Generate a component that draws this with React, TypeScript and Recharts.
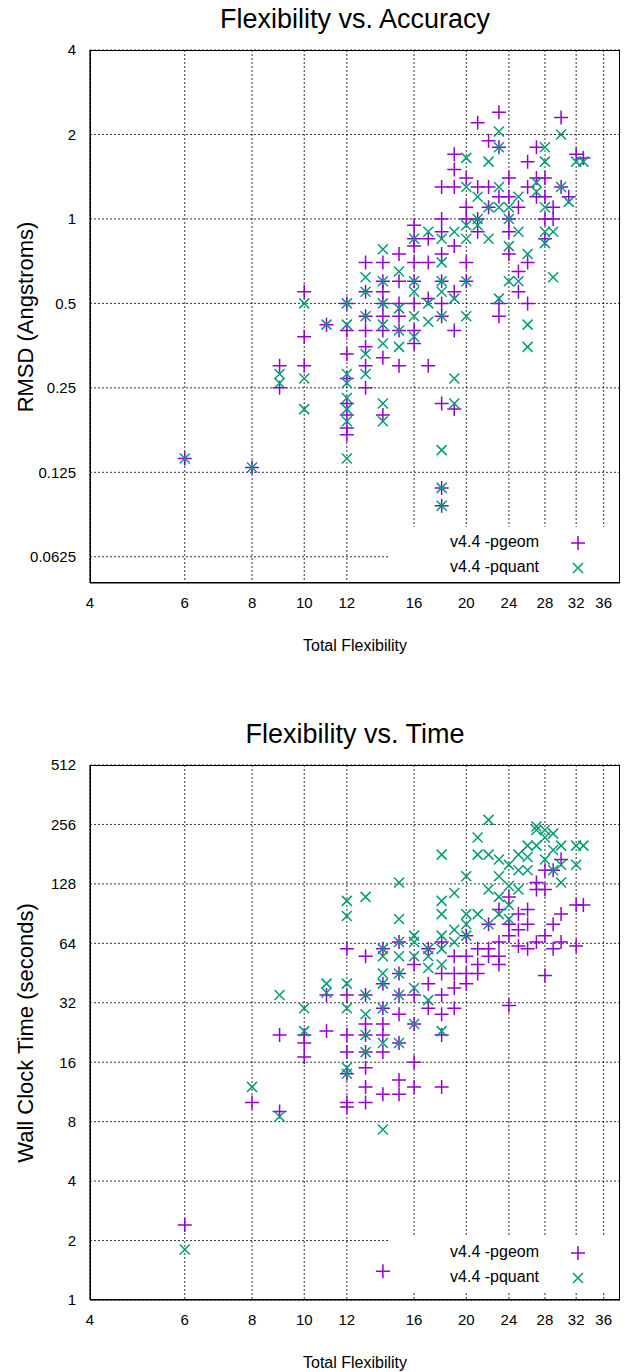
import React from "react";
import {
  ScatterChart,
  Scatter,
  XAxis,
  YAxis,
  CartesianGrid,
} from "recharts";

const PURPLE = "#9400d3";
const GREEN = "#009e73";
const FONT = "'Liberation Sans', Arial, sans-serif";

const xTicks = [4, 6, 8, 10, 12, 16, 20, 24, 28, 32, 36];
const rmsdTicks = [0.0625, 0.125, 0.25, 0.5, 1, 2, 4];
const timeTicks = [1, 2, 4, 8, 16, 32, 64, 128, 256, 512];

const rmsdGeom: [number, number][] = [
  [6, 0.14], [8, 0.13], [9, 0.3], [9, 0.25], [10, 0.55], [10, 0.38], [10, 0.3], [11, 0.42],
  [12, 0.5], [12, 0.4], [12, 0.33], [12, 0.27], [12, 0.22], [12, 0.2], [12, 0.18], [12, 0.17],
  [13, 0.7], [13, 0.55], [13, 0.45], [13, 0.4], [13, 0.35], [13, 0.3], [13, 0.25],
  [14, 0.7], [14, 0.6], [14, 0.55], [14, 0.5], [14, 0.45], [14, 0.4], [14, 0.32], [14, 0.2],
  [15, 0.75], [15, 0.6], [15, 0.5], [15, 0.45], [15, 0.4], [15, 0.3],
  [16, 0.95], [16, 0.85], [16, 0.8], [16, 0.7], [16, 0.6], [16, 0.5], [16, 0.4], [16, 0.36],
  [17, 0.85], [17, 0.7], [17, 0.52], [17, 0.3],
  [18, 1.3], [18, 1.0], [18, 0.9], [18, 0.75], [18, 0.6], [18, 0.5], [18, 0.45], [18, 0.22], [18, 0.11], [18, 0.095],
  [19, 1.7], [19, 1.5], [19, 1.3], [19, 0.8], [19, 0.55], [19, 0.4], [19, 0.21],
  [20, 1.4], [20, 1.1], [20, 1.0], [20, 0.7], [20, 0.6],
  [21, 2.2], [21, 1.3], [21, 1.0], [21, 0.9], [22, 1.9], [22, 1.3], [22, 1.1],
  [23, 2.4], [23, 1.8], [23, 1.2], [23, 0.45], [23, 0.5],
  [24, 1.4], [24, 1.2], [24, 1.0], [24, 0.9], [24, 0.75], [25, 1.1], [25, 0.65], [25, 0.55],
  [26, 1.6], [26, 1.3], [26, 0.7], [26, 0.5], [27, 1.8], [27, 1.4], [27, 1.2],
  [28, 1.4], [28, 1.2], [28, 1.0], [28, 0.85], [29, 1.1], [29, 1.0], [30, 2.3], [30, 1.3],
  [31, 1.2], [32, 1.7], [33, 1.65],
];

const rmsdQuant: [number, number][] = [
  [6, 0.14], [8, 0.13], [9, 0.28], [9, 0.26], [10, 0.5], [10, 0.27], [10, 0.21], [11, 0.42],
  [12, 0.5], [12, 0.42], [12, 0.28], [12, 0.26], [12, 0.23], [12, 0.21], [12, 0.19], [12, 0.14],
  [13, 0.62], [13, 0.55], [13, 0.45], [13, 0.33], [13, 0.28],
  [14, 0.78], [14, 0.6], [14, 0.5], [14, 0.42], [14, 0.36], [14, 0.22], [14, 0.19],
  [15, 0.65], [15, 0.48], [15, 0.4], [15, 0.35],
  [16, 0.85], [16, 0.6], [16, 0.55], [16, 0.45], [16, 0.38], [17, 0.9], [17, 0.5], [17, 0.43],
  [18, 0.85], [18, 0.7], [18, 0.6], [18, 0.55], [18, 0.45], [18, 0.15], [18, 0.11], [18, 0.095],
  [19, 0.9], [19, 0.52], [19, 0.27], [19, 0.22],
  [20, 1.65], [20, 1.3], [20, 0.95], [20, 0.85], [20, 0.6], [20, 0.45],
  [21, 1.2], [21, 1.0], [21, 0.95], [22, 1.6], [22, 1.1], [22, 0.85],
  [23, 2.05], [23, 1.8], [23, 1.3], [23, 1.1], [23, 0.52],
  [24, 1.1], [24, 1.0], [24, 0.8], [24, 0.6], [25, 1.2], [25, 0.9], [25, 0.6],
  [26, 0.75], [26, 0.42], [26, 0.35], [27, 1.35], [27, 1.25],
  [28, 1.8], [28, 1.6], [28, 1.1], [28, 0.9], [28, 0.82], [29, 0.9], [29, 0.62],
  [30, 2.0], [30, 1.3], [31, 1.15], [32, 1.6], [33, 1.6],
];

const timeGeom: [number, number][] = [
  [6, 2.4], [8, 10], [9, 9], [9, 22], [10, 22], [10, 20], [10, 17], [11, 35], [11, 23],
  [12, 60], [12, 35], [12, 22], [12, 18], [12, 14], [12, 10], [12, 9.5],
  [13, 55], [13, 35], [13, 25], [13, 22], [13, 18], [13, 15], [13, 12], [13, 10],
  [14, 60], [14, 40], [14, 30], [14, 25], [14, 22], [14, 18], [14, 11], [14, 1.4],
  [15, 65], [15, 45], [15, 35], [15, 28], [15, 20], [15, 13], [15, 11],
  [16, 50], [16, 35], [16, 25], [16, 16], [16, 12], [17, 60], [17, 40], [17, 30],
  [18, 65], [18, 45], [18, 35], [18, 28], [18, 22], [18, 12],
  [19, 55], [19, 45], [19, 38], [19, 30], [20, 70], [20, 55], [20, 45], [20, 40],
  [21, 60], [21, 50], [21, 45], [22, 80], [22, 60], [22, 55],
  [23, 95], [23, 65], [23, 55], [23, 50], [24, 110], [24, 80], [24, 70], [24, 31],
  [25, 90], [25, 75], [25, 62], [26, 95], [26, 80], [26, 60], [27, 130], [27, 65], [27, 120],
  [28, 150], [28, 120], [28, 70], [28, 44], [29, 150], [29, 80], [29, 60],
  [30, 170], [30, 90], [30, 65], [32, 62], [32, 100], [33, 100],
];

const timeQuant: [number, number][] = [
  [6, 1.8], [8, 12], [9, 35], [9, 8.5], [10, 30], [10, 23], [11, 40], [11, 36],
  [12, 105], [12, 88], [12, 40], [12, 30], [12, 15], [12, 14],
  [13, 110], [13, 35], [13, 28], [13, 22], [13, 18],
  [14, 60], [14, 55], [14, 45], [14, 40], [14, 30], [14, 20], [14, 7.3],
  [15, 130], [15, 85], [15, 65], [15, 55], [15, 45], [15, 35], [15, 20],
  [16, 70], [16, 65], [16, 55], [16, 38], [16, 25], [17, 60], [17, 55], [17, 48], [17, 33],
  [18, 180], [18, 105], [18, 90], [18, 70], [18, 60], [18, 50], [18, 23],
  [19, 115], [19, 75], [19, 65], [20, 140], [20, 90], [20, 80], [20, 70],
  [21, 180], [21, 90], [21, 220], [22, 270], [22, 180], [22, 120], [22, 80],
  [23, 170], [23, 140], [23, 110], [23, 90], [24, 160], [24, 125], [24, 100], [24, 85],
  [25, 180], [25, 150], [25, 120], [26, 200], [26, 175], [26, 150],
  [27, 250], [27, 240], [27, 200], [28, 240], [28, 220], [28, 170],
  [29, 230], [29, 190], [29, 150], [30, 200], [30, 160], [30, 130],
  [32, 200], [32, 160], [33, 200],
];

const toRows = (pts: [number, number][]) => pts.map(([x, y]) => ({ x, y }));

const Plus = (props: any) => {
  const { cx, cy } = props;
  return (
    <path d={`M${cx - 7},${cy}H${cx + 7}M${cx},${cy - 7}V${cy + 7}`} stroke={PURPLE} strokeWidth={1.5} fill="none" />
  );
};

const Cross = (props: any) => {
  const { cx, cy } = props;
  return (
    <path d={`M${cx - 5},${cy - 5}L${cx + 5},${cy + 5}M${cx - 5},${cy + 5}L${cx + 5},${cy - 5}`} stroke={GREEN} strokeWidth={1.5} fill="none" />
  );
};

const fmt = (v: number) => String(v);

function Panel(props: {
  title: string;
  ylabel: string;
  yTicks: number[];
  yDomain: [number, number];
  geom: [number, number][];
  quant: [number, number][];
  height: number;
  top: number;
  bottom: number;
  legendTop: number;
}) {
  const { title, ylabel, yTicks, yDomain, geom, quant, height, top, bottom, legendTop } = props;
  const tick = { fontSize: 15, fill: "#000", fontFamily: FONT };
  return (
    <div style={{ position: "relative", width: 627, height }}>
      <div style={{ position: "absolute", top: top - 46, width: 627, paddingLeft: 90, boxSizing: "border-box", textAlign: "center", fontFamily: FONT, fontSize: 27, paddingRight: 7 }}>
        {title}
      </div>
      <ScatterChart width={627} height={height} margin={{ top, right: 7, left: 10, bottom: height - bottom - 30 }}>
        <CartesianGrid xAxisId="b" yAxisId="l" stroke="#000" strokeDasharray="2 2" strokeWidth={0.8} horizontalValues={yTicks} verticalValues={xTicks} />
        <XAxis xAxisId="b" dataKey="x" type="number" scale="log" domain={[4, 38.6]} allowDataOverflow ticks={xTicks} tickFormatter={fmt} tick={tick} height={30} stroke="#000" tickLine={false} tickMargin={8} />
        <YAxis yAxisId="l" dataKey="y" type="number" scale="log" domain={yDomain} allowDataOverflow ticks={yTicks} tickFormatter={fmt} tick={tick} width={80} stroke="#000" tickLine={false} tickMargin={8} />
        <Scatter xAxisId="b" yAxisId="l" data={toRows(geom)} shape={Plus} isAnimationActive={false} />
        <Scatter xAxisId="b" yAxisId="l" data={toRows(quant)} shape={Cross} isAnimationActive={false} />
      </ScatterChart>
      <div style={{ position: "absolute", left: 90, top, width: 530, height: bottom - top, border: "1px solid #000", boxSizing: "border-box", pointerEvents: "none" }} />
      <div style={{ position: "absolute", left: 0, top: (top + bottom) / 2, width: 0, height: 0 }}>
        <div style={{ position: "absolute", transform: "translate(-50%,-50%) rotate(-90deg)", left: 26, whiteSpace: "nowrap", fontFamily: FONT, fontSize: 22 }}>
          {ylabel}
        </div>
      </div>
      <div style={{ position: "absolute", top: bottom + 54, width: 627, paddingLeft: 90, paddingRight: 7, boxSizing: "border-box", textAlign: "center", fontFamily: FONT, fontSize: 16 }}>
        Total Flexibility
      </div>
      <div style={{ position: "absolute", left: 390, top: legendTop, width: 229, height: 55, background: "#fff", fontFamily: FONT, fontSize: 16 }}>
        <div style={{ position: "absolute", right: 80, top: 6 }}>v4.4 -pgeom</div>
        <div style={{ position: "absolute", right: 80, top: 31 }}>v4.4 -pquant</div>
        <svg width={229} height={55} style={{ position: "absolute", left: 0, top: 0 }}>
          <Plus cx={188} cy={16} />
          <Cross cx={188} cy={41} />
        </svg>
      </div>
    </div>
  );
}

export default function App() {
  return (
    <div style={{ position: "absolute", left: 0, top: 0, width: 627, height: 1372, background: "#fff" }}>
      <Panel title="Flexibility vs. Accuracy" ylabel="RMSD (Angstroms)" yTicks={rmsdTicks} yDomain={[0.0504, 4]} geom={rmsdGeom} quant={rmsdQuant} height={700} top={50} bottom={583} legendTop={527} />
      <div style={{ position: "absolute", top: 700, left: 0 }}>
        <Panel title="Flexibility vs. Time" ylabel="Wall Clock Time (seconds)" yTicks={timeTicks} yDomain={[1, 512]} geom={timeGeom} quant={timeQuant} height={672} top={65} bottom={600} legendTop={537} />
      </div>
    </div>
  );
}
